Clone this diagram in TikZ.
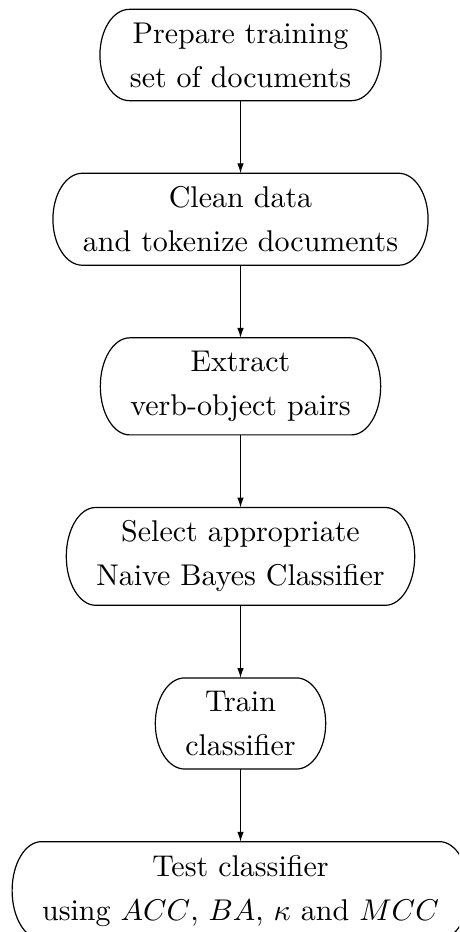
\documentclass[tikz,border=0pt]{standalone}
\usetikzlibrary{positioning,arrows.meta,calc}
\newcommand\outlinebox[1]{%
  \draw[boxline]
    ([xshift=9.8pt]#1.north west) -- ([xshift=-9.8pt]#1.north east)
    .. controls ([xshift=-4.39pt]#1.north east) and ($(#1.east)!0.5523!(#1.north east)$) .. (#1.east)
    .. controls ($(#1.east)!0.5523!(#1.south east)$) and ([xshift=-4.39pt]#1.south east) .. ([xshift=-9.8pt]#1.south east)
    -- ([xshift=9.8pt]#1.south west)
    .. controls ([xshift=4.39pt]#1.south west) and ($(#1.west)!0.5523!(#1.south west)$) .. (#1.west)
    .. controls ($(#1.west)!0.5523!(#1.north west)$) and ([xshift=4.39pt]#1.north west) .. ([xshift=9.8pt]#1.north west)
    -- cycle;}
\begin{document}
\begin{tikzpicture}[x=0.333333pt,y=-0.333333pt,
  stepbox/.style={rectangle, align=center, inner xsep=9.8pt, inner ysep=4.2pt,
    font=\fontsize{10}{14.7}\selectfont},
  boxline/.style={line width=0.4pt, line join=round},
  flow/.style={-{Latex[length=3.3pt,width=2.2pt]}, line width=0.4pt},
  node distance=24.2pt]
\useasboundingbox (0,0) rectangle (459,932);
\clip (0,0) rectangle (459,932);
\node[stepbox] (n1) at (240.5,55) {Prepare training\\set of documents};
\node[stepbox, below=of n1] (n2) {Clean data\\and tokenize documents};
\node[stepbox, below=of n2] (n3) {Extract\\verb-object pairs};
\node[stepbox, below=of n3] (n4) {Select appropriate\\Naive Bayes Classifier};
\node[stepbox, below=of n4] (n5) {Train\\classifier};
\node[stepbox, below=of n5] (n6) {Test classifier\\using $ACC$, $BA$, $\kappa$ and $MCC$};
\outlinebox{n1}
\outlinebox{n2}
\outlinebox{n3}
\outlinebox{n4}
\outlinebox{n5}
\outlinebox{n6}
\draw[flow] (n1.south) -- (n2.north);
\draw[flow] (n2.south) -- (n3.north);
\draw[flow] (n3.south) -- (n4.north);
\draw[flow] (n4.south) -- (n5.north);
\draw[flow] (n5.south) -- (n6.north);
\end{tikzpicture}
\end{document}
